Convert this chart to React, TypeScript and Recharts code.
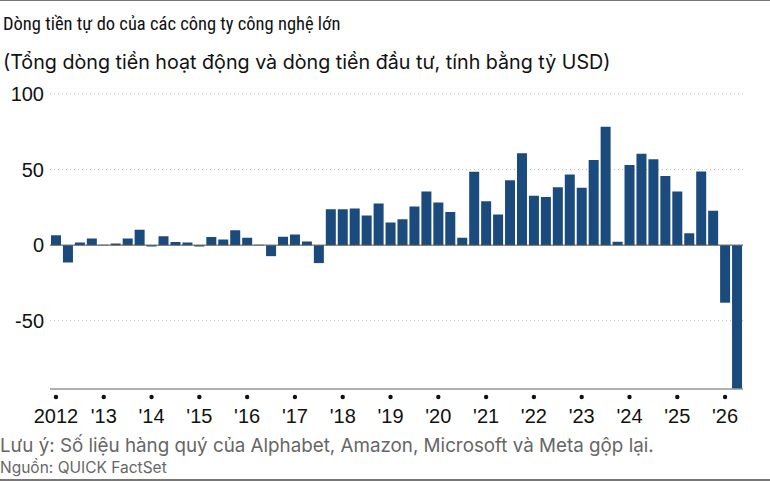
import React from "react";
import { BarChart, Bar, XAxis, YAxis, CartesianGrid, ReferenceLine } from "recharts";

const YEARS = ["2012", "'13", "'14", "'15", "'16", "'17", "'18", "'19", "'20", "'21", "'22", "'23", "'24", "'25", "'26"];
const QUARTERS = ["Q1", "Q2", "Q3", "Q4"];

// quarterly free cash flow, billion USD (2012 Q1 .. 2026 Q2)
const VALUES = [
  6.6, -11.5, 1.8, 4.4,
  0.3, 1.1, 4.4, 10.1,
  -0.9, 5.9, 2.0, 1.8,
  -0.9, 5.3, 3.7, 9.9,
  4.8, 0.2, -7.3, 5.5,
  7.0, 2.4, -11.9, 23.8,
  23.8, 24.2, 19.6, 27.5,
  15.0, 17.2, 25.6, 35.5,
  28.2, 22.0, 4.8, 48.5,
  29.1, 20.3, 43.0, 60.8,
  32.6, 31.9, 38.3, 46.7,
  37.9, 56.4, 78.4, 2.2,
  53.1, 60.4, 56.8, 45.8,
  35.5, 7.9, 48.7, 22.7,
  -38.1, -95.2,
];

const Y_TICKS = [-50, 0, 50, 100];

const data = VALUES.map((v, i) => ({
  key: `${YEARS[Math.floor(i / 4)]}-${QUARTERS[i % 4]}`,
  year: YEARS[Math.floor(i / 4)],
  value: v,
}));

const yearTicks = data.filter((d) => d.key.endsWith("Q1")).map((d) => d.key);

const BAR_COLOR = "#1b4a7d";
const SANS = "'Liberation Sans', Arial, sans-serif";

const YearTick = (props: any) => {
  const { x, y, payload } = props;
  const label = payload.value.split("-")[0];
  return (
    <g>
      <circle cx={x} cy={y} r={2.2} fill="#111" />
      <text x={x} y={y + 26} textAnchor="middle" fontSize={20} fill="#111" fontFamily={SANS}>
        {label}
      </text>
    </g>
  );
};

export default function App() {
  return (
    <div style={{ position: "absolute", left: 0, top: 0, width: 770, height: 481, background: "#fff", overflow: "hidden" }}>
      <div style={{ position: "absolute", left: 0, top: 0, width: 770, height: 1, background: "#777" }} />
      <div
        style={{
          position: "absolute",
          left: 3,
          top: 13,
          fontFamily: "'Liberation Sans Narrow', 'Roboto Condensed', Roboto, sans-serif",
          fontSize: 18.5,
          color: "#111",
          whiteSpace: "nowrap",
        }}
      >
        Dòng tiền tự do của các công ty công nghệ lớn
      </div>
      <div
        style={{
          position: "absolute",
          left: 3,
          top: 50,
          fontFamily: "Inter, sans-serif",
          fontSize: 19.7,
          color: "#111",
          whiteSpace: "nowrap",
        }}
      >
        (Tổng dòng tiền hoạt động và dòng tiền đầu tư, tính bằng tỷ USD)
      </div>
      <div style={{ position: "absolute", left: 0, top: 0 }}>
        <BarChart
          width={770}
          height={481}
          data={data}
          margin={{ top: 94, right: 27, bottom: 62, left: 0 }}
          barCategoryGap={1}
        >
          <CartesianGrid vertical={false} stroke="#bbb" strokeDasharray="1 3" />
          <XAxis
            dataKey="key"
            ticks={yearTicks}
            interval={0}
            tick={<YearTick />}
            tickLine={false}
            axisLine={{ stroke: "#999", strokeWidth: 1.5 }}
            height={30}
          />
          <YAxis
            domain={[-95.2, 100]}
            ticks={Y_TICKS}
            allowDataOverflow
            width={50}
            axisLine={false}
            tickLine={false}
            tickSize={0}
            tickMargin={6}
            tick={{ fill: "#111", fontSize: 20, fontFamily: SANS }}
          />
          <ReferenceLine y={0} stroke="#555" strokeWidth={1} />
          <Bar dataKey="value" fill={BAR_COLOR} isAnimationActive={false} />
        </BarChart>
      </div>
      <div
        style={{
          position: "absolute",
          left: 0,
          top: 434,
          fontFamily: "Inter, sans-serif",
          fontSize: 18.8,
          color: "#666",
          whiteSpace: "nowrap",
        }}
      >
        Lưu ý: Số liệu hàng quý của Alphabet, Amazon, Microsoft và Meta gộp lại.
      </div>
      <div
        style={{
          position: "absolute",
          left: 0,
          top: 458,
          fontFamily: "Inter, sans-serif",
          fontSize: 15.5,
          color: "#666",
          whiteSpace: "nowrap",
        }}
      >
        Nguồn: QUICK FactSet
      </div>
      <div style={{ position: "absolute", left: 0, top: 479, width: 770, height: 2, background: "#777" }} />
    </div>
  );
}
